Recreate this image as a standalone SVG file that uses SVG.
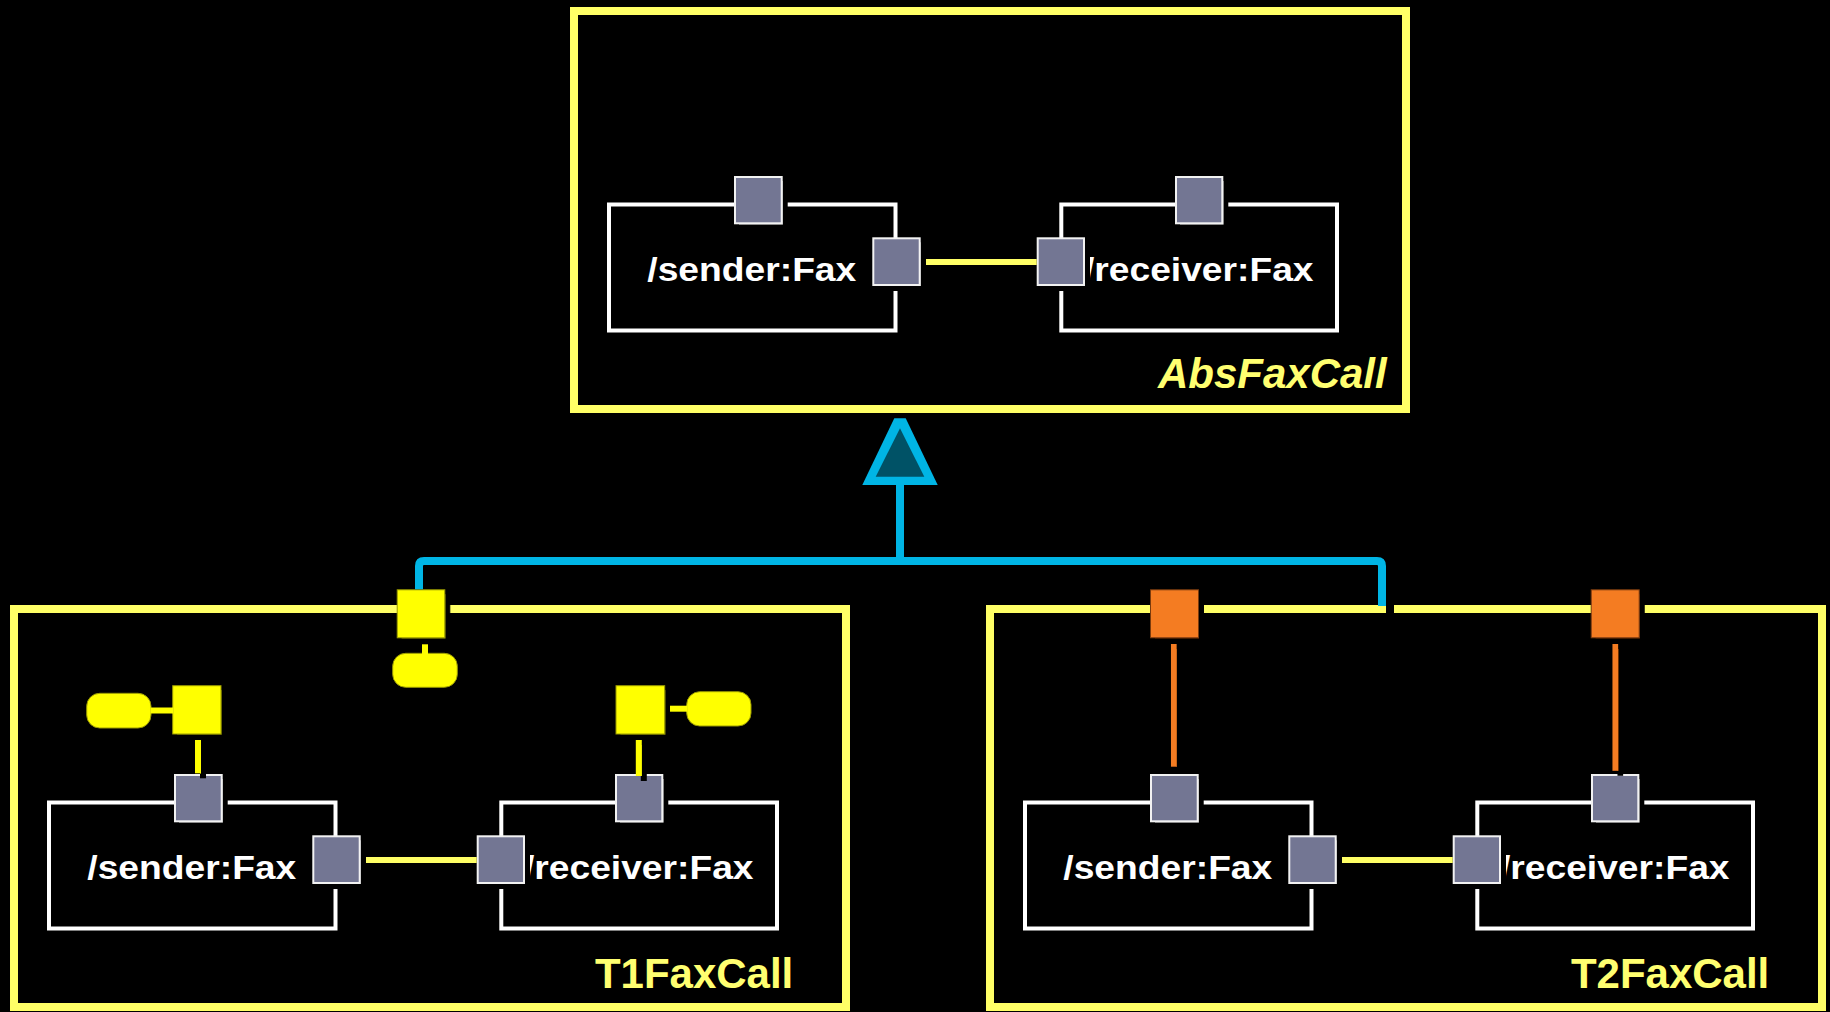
<svg xmlns="http://www.w3.org/2000/svg" width="1830" height="1012" viewBox="0 0 1830 1012">
  <defs>
    <!-- hard black drop shadow used by ports and some links -->
    <filter id="drop" filterUnits="userSpaceOnUse" x="-2000" y="-2000" width="6000" height="6000">
      <feOffset in="SourceAlpha" dx="5" dy="5" result="off"/>
      <feMerge>
        <feMergeNode in="off"/>
        <feMergeNode in="SourceGraphic"/>
      </feMerge>
    </filter>
  </defs>
  <style>
    .frame { fill: none; stroke: #ffff66; stroke-width: 8; }
    .part { fill: none; stroke: #ffffff; stroke-width: 4; }
    .port { fill: #737693; stroke: #f2f2f2; stroke-width: 2; filter: url(#drop); }
    .yport { fill: #ffff00; stroke: #9a9a00; stroke-width: 1; filter: url(#drop); }
    .oport { fill: #f47c20; stroke: #7a3a10; stroke-width: 1; filter: url(#drop); }
    .blob { fill: #ffff00; stroke: #9a9a00; stroke-width: 1; }
    .name { font-family: "Liberation Sans", Arial, sans-serif; font-weight: bold; font-size: 33px; fill: #ffffff; }
    .label { font-family: "Liberation Sans", Arial, sans-serif; font-weight: bold; font-size: 42px; fill: #ffff70; text-anchor: end; }
    .link { stroke: #ffff66; stroke-width: 6; fill: none; }
    .stem { stroke: #ffff00; stroke-width: 6; fill: none; }
    .ostem { stroke: #f47c20; stroke-width: 5.7; fill: none; }
    .gen { stroke: #00b5e5; stroke-width: 8; fill: none; }
  </style>

  <rect x="0" y="0" width="1830" height="1012" fill="#000000"/>

  <!-- AbsFaxCall collaboration -->
  <g id="abs-fax-call" transform="translate(574,11)">
    <rect class="frame" x="0" y="0" width="832" height="398"/>
    <g id="abs-sender">
      <rect class="part" x="35" y="193.5" width="286.5" height="126"/>
      <text class="name" x="73.3" y="270" textLength="209" lengthAdjust="spacingAndGlyphs">/sender:Fax</text>
      <rect class="port" x="161" y="166" width="46.7" height="46.3"/>
      <rect class="port" x="299.3" y="227.3" width="46.4" height="46.7"/>
    </g>
    <g id="abs-receiver">
      <text class="name" x="510" y="270" textLength="229.5" lengthAdjust="spacingAndGlyphs">/receiver:Fax</text>
      <rect class="part" x="487.3" y="193.5" width="275.7" height="126"/>
      <rect class="port" x="602" y="166" width="46.3" height="46.3"/>
      <rect class="port" x="463.7" y="227.3" width="46.3" height="46.7"/>
    </g>
    <text class="label" x="812.7" y="377.3" font-style="italic">AbsFaxCall</text>
  </g>

  <!-- T1FaxCall collaboration -->
  <g id="t1-fax-call" transform="translate(14,609)">
    <rect class="frame" x="0" y="0" width="832" height="398"/>
    <g id="t1-sender">
      <rect class="part" x="35" y="193.5" width="286.5" height="126"/>
      <text class="name" x="73.3" y="270" textLength="209" lengthAdjust="spacingAndGlyphs">/sender:Fax</text>
      <rect class="port" x="161" y="166" width="46.7" height="46.3"/>
      <rect class="port" x="299.3" y="227.3" width="46.4" height="46.7"/>
    </g>
    <g id="t1-receiver">
      <text class="name" x="510" y="270" textLength="229.5" lengthAdjust="spacingAndGlyphs">/receiver:Fax</text>
      <rect class="part" x="487.3" y="193.5" width="275.7" height="126"/>
      <rect class="port" x="602" y="166" width="46.3" height="46.3"/>
      <rect class="port" x="463.7" y="227.3" width="46.3" height="46.7"/>
    </g>
    <g id="t1-boundary-port">
      <rect class="blob" x="378.7" y="44.3" width="64.6" height="34" rx="13"/>
      <rect class="yport" x="383.2" y="-19.2" width="47.6" height="48"/>
    </g>
    <g id="t1-sender-port">
      <rect class="blob" x="72.7" y="84.3" width="64.3" height="34.7" rx="13"/>
      <rect class="yport" x="158.7" y="76.7" width="48.3" height="48.3"/>
    </g>
    <g id="t1-receiver-port">
      <rect class="blob" x="672.7" y="82.7" width="64.3" height="34.3" rx="13"/>
      <rect class="yport" x="602" y="76.7" width="48.7" height="48.3"/>
    </g>
    <text class="label" x="779.3" y="378.7">T1FaxCall</text>
  </g>

  <!-- T2FaxCall collaboration -->
  <g id="t2-fax-call" transform="translate(990,609)">
    <rect class="frame" x="0" y="0" width="832" height="398"/>
    <g id="t2-sender">
      <rect class="part" x="35" y="193.5" width="286.5" height="126"/>
      <text class="name" x="73.3" y="270" textLength="209" lengthAdjust="spacingAndGlyphs">/sender:Fax</text>
      <rect class="port" x="161" y="166" width="46.7" height="46.3"/>
      <rect class="port" x="299.3" y="227.3" width="46.4" height="46.7"/>
    </g>
    <g id="t2-receiver">
      <text class="name" x="510" y="270" textLength="229.5" lengthAdjust="spacingAndGlyphs">/receiver:Fax</text>
      <rect class="part" x="487.3" y="193.5" width="275.7" height="126"/>
      <rect class="port" x="602" y="166" width="46.3" height="46.3"/>
      <rect class="port" x="463.7" y="227.3" width="46.3" height="46.7"/>
    </g>
    <g id="t2-boundary-ports">
      <rect class="oport" x="160.5" y="-19.2" width="48" height="48"/>
      <rect class="oport" x="601.2" y="-19.2" width="48" height="48"/>
    </g>
    <text class="label" x="779.3" y="378.7">T2FaxCall</text>
  </g>

  <!-- connectors -->
  <g id="connectors">
    <!-- sender/receiver links -->
    <line class="link" x1="926" y1="262" x2="1036.7" y2="262"/>
    <line class="link" x1="366" y1="860" x2="476.7" y2="860"/>
    <line class="link" x1="1342" y1="860" x2="1452.7" y2="860"/>

    <!-- T1 delegation stems -->
    <line class="stem" x1="425" y1="644.3" x2="425" y2="654"/>
    <line class="stem" x1="150.5" y1="710.5" x2="173" y2="710.5"/>
    <line class="stem" x1="670" y1="708.7" x2="687.2" y2="708.7"/>
    <line class="stem" x1="198" y1="740" x2="198" y2="773.3" stroke-width="5.7" filter="url(#drop)"/>
    <line class="stem" x1="638.8" y1="740" x2="638.8" y2="776" stroke-width="5.7" filter="url(#drop)"/>

    <!-- T2 delegation links -->
    <line class="ostem" x1="1173.8" y1="644" x2="1173.8" y2="766.7" filter="url(#drop)"/>
    <line class="ostem" x1="1615.3" y1="644" x2="1615.3" y2="770.8" filter="url(#drop)"/>

    <!-- generalization to AbsFaxCall -->
    <g id="generalization">
      <path class="gen" d="M419 589.3 V566 Q419 561 424 561 H1377 Q1382 561 1382 566 V606"/>
      <rect x="1386" y="604" width="8" height="10" fill="#000000"/>
      <line class="gen" x1="900" y1="484" x2="900" y2="561"/>
      <polygon points="894.3,418.3 905.7,418.3 937.7,485 862.3,485" fill="#00b5e5"/>
      <polygon points="900,428.3 924.3,476.7 875.7,476.7" fill="#005266"/>
    </g>
  </g>
</svg>
